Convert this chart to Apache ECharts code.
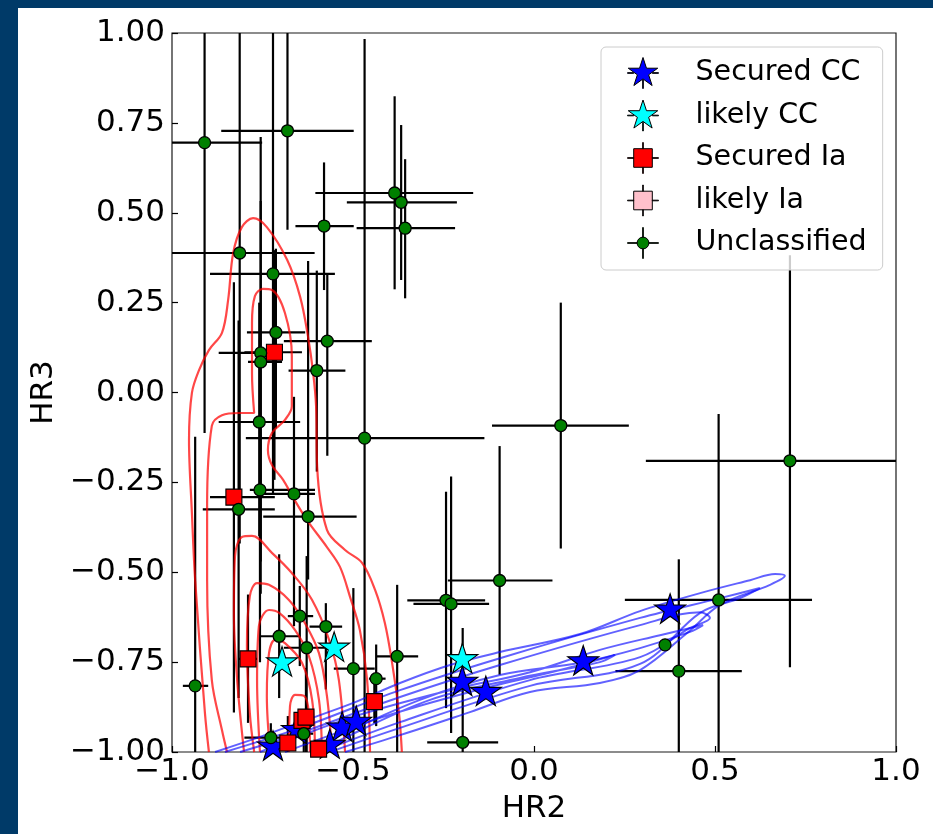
<!DOCTYPE html>
<html>
<head>
<meta charset="utf-8">
<script src="https://cdn.jsdelivr.net/npm/echarts@6/dist/echarts.min.js"></script>
<style>
html,body{margin:0;padding:0;background:#003a68;}
#chart{width:933px;height:834px;}
</style>
</head>
<body>
<div id="chart"></div>
<script>
// ---------- data: [x, y, xLow, xHigh, yLow, yHigh] ----------
const securedCC = [
  [0.376, -0.605, 0.376, 0.376, -0.605, -0.605],
  [0.136, -0.749, 0.136, 0.136, -0.749, -0.749],
  [-0.198, -0.806, -0.198, -0.198, -0.806, -0.806],
  [-0.133, -0.834, -0.133, -0.133, -0.834, -0.834],
  [-0.530, -0.933, -0.530, -0.530, -0.933, -0.933],
  [-0.491, -0.917, -0.491, -0.491, -0.917, -0.917],
  [-0.564, -0.981, -0.564, -0.564, -0.981, -0.981],
  [-0.721, -0.986, -0.721, -0.721, -0.986, -0.986],
  [-0.655, -0.940, -0.655, -0.655, -0.940, -0.940]
];
const likelyCC = [
  [-0.198, -0.743, -0.198, -0.198, -0.743, -0.743],
  [-0.696, -0.752, -0.696, -0.696, -0.752, -0.752],
  [-0.552, -0.711, -0.552, -0.552, -0.711, -0.711]
];
const securedIa = [
  [-0.717, 0.112, -0.800, -0.641, -0.243, 0.396],
  [-0.829, -0.291, -0.895, -0.716, -0.890, 0.307],
  [-0.790, -0.741, -0.816, -0.765, -0.919, -0.562],
  [-0.441, -0.860, -0.460, -0.420, -0.920, -0.800],
  [-0.641, -0.912, -0.641, -0.641, -0.912, -0.912],
  [-0.630, -0.903, -0.650, -0.610, -1.050, -0.766],
  [-0.680, -0.975, -0.680, -0.680, -1.050, -0.900],
  [-0.595, -0.992, -0.595, -0.595, -0.992, -0.992]
];
const likelyIa = [];
const unclassified = [
  [-0.910, 0.695, -1.050, -0.751, -0.113, 1.200],
  [-0.681, 0.728, -0.864, -0.498, 0.453, 1.200],
  [-0.580, 0.463, -0.659, -0.498, 0.285, 0.640],
  [-0.385, 0.555, -0.604, -0.168, 0.287, 0.824],
  [-0.367, 0.529, -0.517, -0.213, 0.313, 0.744],
  [-0.356, 0.457, -0.490, -0.218, 0.262, 0.649],
  [-0.813, 0.388, -1.050, -0.606, -0.420, 1.200],
  [-0.721, 0.330, -0.895, -0.550, -0.280, 1.200],
  [-0.713, 0.167, -0.793, -0.632, -0.100, 0.400],
  [-0.571, 0.143, -0.691, -0.448, -0.176, 0.332],
  [-0.755, 0.110, -0.871, -0.700, -0.470, 0.711],
  [-0.755, 0.085, -0.790, -0.696, -0.560, 0.533],
  [-0.600, 0.061, -0.678, -0.521, -0.220, 0.339],
  [-0.759, -0.082, -0.871, -0.646, -0.400, 0.250],
  [-0.468, -0.127, -0.796, -0.137, -1.050, 0.983],
  [0.074, -0.092, -0.116, 0.262, -0.434, 0.250],
  [0.707, -0.190, 0.309, 1.050, -0.764, 0.382],
  [-0.936, -0.816, -0.970, -0.900, -1.050, -0.123],
  [-0.816, -0.325, -0.915, -0.716, -0.850, 0.200],
  [-0.757, -0.271, -0.785, -0.605, -0.750, 0.150],
  [-0.663, -0.282, -0.745, -0.605, -0.650, -0.012],
  [-0.624, -0.345, -0.748, -0.490, -0.520, 0.366],
  [-0.647, -0.622, -0.680, -0.610, -0.761, -0.538],
  [-0.575, -0.651, -0.620, -0.530, -0.826, -0.586],
  [-0.704, -0.678, -0.759, -0.646, -0.850, -0.450],
  [-0.628, -0.710, -0.691, -0.577, -1.050, -0.455],
  [-0.499, -0.768, -0.553, -0.440, -1.050, -0.544],
  [-0.436, -0.796, -0.456, -0.410, -0.928, -0.701],
  [-0.378, -0.734, -0.436, -0.320, -1.050, -0.535],
  [-0.727, -0.960, -0.800, -0.660, -1.050, -0.920],
  [-0.636, -0.949, -0.660, -0.610, -1.000, -0.900],
  [-0.243, -0.578, -0.350, -0.135, -0.878, -0.276],
  [-0.229, -0.588, -0.333, -0.124, -0.947, -0.234],
  [-0.095, -0.523, -0.238, 0.051, -0.785, -0.149],
  [-0.197, -0.973, -0.295, -0.099, -1.050, -0.655],
  [0.362, -0.702, 0.362, 0.362, -0.702, -0.702],
  [0.400, -0.775, 0.225, 0.574, -1.050, -0.464],
  [0.510, -0.577, 0.251, 0.768, -1.050, -0.060]
];

// ---------- density contours ----------
const iaContour1 = [[-0.898,-1.0],[-0.909,-0.892],[-0.936,-0.522],[-0.945,-0.335],[-0.953,-0.132],[-0.945,-0.001],[-0.925,0.063],[-0.898,0.118],[-0.862,0.166],[-0.845,0.257],[-0.831,0.388],[-0.807,0.460],[-0.776,0.485],[-0.738,0.460],[-0.682,0.369],[-0.646,0.266],[-0.624,0.154],[-0.610,0.054],[-0.602,-0.038],[-0.599,-0.207],[-0.572,-0.382],[-0.522,-0.438],[-0.475,-0.474],[-0.439,-0.549],[-0.412,-0.641],[-0.392,-0.752],[-0.373,-0.891],[-0.365,-1.0]];
const iaContour2 = [[-0.848,-1.0],[-0.862,-0.939],[-0.890,-0.800],[-0.903,-0.522],[-0.903,-0.316],[-0.890,-0.093],[-0.862,-0.063],[-0.815,-0.057],[-0.773,-0.057],[-0.779,0.054],[-0.779,0.193],[-0.771,0.268],[-0.749,0.288],[-0.724,0.285],[-0.688,0.221],[-0.669,0.102],[-0.669,-0.038],[-0.688,-0.076],[-0.724,-0.113],[-0.735,-0.160],[-0.724,-0.202],[-0.693,-0.243],[-0.666,-0.291],[-0.627,-0.355],[-0.572,-0.430],[-0.536,-0.485],[-0.508,-0.569],[-0.481,-0.661],[-0.461,-0.800],[-0.453,-1.0]];
const iaContour3 = [[-0.801,-1.0],[-0.820,-0.800],[-0.829,-0.613],[-0.826,-0.455],[-0.807,-0.402],[-0.779,-0.399],[-0.724,-0.446],[-0.669,-0.502],[-0.613,-0.577],[-0.566,-0.688],[-0.539,-0.800],[-0.522,-1.0]];
const iaContour4 = [[-0.773,-1.0],[-0.785,-0.892],[-0.793,-0.705],[-0.785,-0.566],[-0.765,-0.530],[-0.732,-0.535],[-0.677,-0.577],[-0.633,-0.641],[-0.594,-0.725],[-0.572,-0.844],[-0.558,-1.0]];
const iaContour5 = [[-0.757,-1.0],[-0.765,-0.800],[-0.760,-0.650],[-0.732,-0.605],[-0.704,-0.613],[-0.660,-0.661],[-0.622,-0.733],[-0.594,-0.855],[-0.586,-1.0]];
const iaContour6 = [[-0.729,-1.0],[-0.738,-0.844],[-0.732,-0.725],[-0.715,-0.688],[-0.688,-0.697],[-0.641,-0.752],[-0.613,-0.855],[-0.605,-1.0]];
const iaContour7 = [[-0.677,-1.0],[-0.674,-0.872],[-0.660,-0.841],[-0.635,-0.844],[-0.622,-0.892],[-0.619,-1.0]];

const ccContour1 = [[-0.881,-1.0],[-0.757,-0.958],[-0.646,-0.917],[-0.508,-0.867],[-0.370,-0.808],[-0.232,-0.758],[-0.094,-0.722],[0.127,-0.672],[0.293,-0.608],[0.459,-0.558],[0.597,-0.522],[0.666,-0.505],[0.693,-0.510],[0.652,-0.535],[0.514,-0.591],[0.423,-0.669],[0.293,-0.772],[0.182,-0.808],[-0.011,-0.833],[-0.177,-0.889],[-0.370,-0.953],[-0.522,-1.0]];
const ccContour2 = [[-0.854,-1.0],[-0.646,-0.933],[-0.370,-0.828],[-0.094,-0.739],[0.293,-0.627],[0.514,-0.572],[0.624,-0.544],[0.569,-0.572],[0.459,-0.613],[0.293,-0.755],[-0.011,-0.816],[-0.370,-0.933],[-0.564,-1.0]];
const ccContour3 = [[-0.812,-1.0],[-0.646,-0.947],[-0.370,-0.847],[-0.094,-0.758],[0.293,-0.647],[0.459,-0.611],[0.486,-0.627],[0.431,-0.655],[0.293,-0.736],[-0.011,-0.800],[-0.370,-0.917],[-0.591,-1.0]];
const ccContour4 = [[-0.757,-1.0],[-0.508,-0.905],[-0.232,-0.828],[-0.011,-0.778],[0.182,-0.716],[0.348,-0.675],[0.467,-0.647],[0.431,-0.666],[0.293,-0.711],[0.127,-0.752],[-0.094,-0.786],[-0.315,-0.855],[-0.564,-0.967],[-0.619,-1.0]];
const ccContour5 = [[-0.688,-1.0],[-0.425,-0.905],[-0.177,-0.833],[0.072,-0.772],[0.224,-0.730],[0.182,-0.750],[-0.039,-0.794],[-0.287,-0.855],[-0.536,-0.967],[-0.591,-1.0]];

const xTickLabels = ['\u22121.0', '\u22120.5', '0.0', '0.5', '1.0'];
const yTickLabels = ['\u22121.00', '\u22120.75', '\u22120.50', '\u22120.25', '0.00', '0.25', '0.50', '0.75', '1.00'];
const seriesNames = ['Secured CC', 'likely CC', 'Secured Ia', 'likely Ia', 'Unclassified'];

// ---------- symbols ----------
const STAR = 'path://M50 0 L61.23 34.55 L97.55 34.55 L68.17 55.9 L79.39 90.45 L50 69.1 L20.61 90.45 L31.83 55.9 L2.45 34.55 L38.77 34.55 Z';
const STAR_LEG = 'path://M50 0 L61.23 34.55 L97.55 34.55 L68.17 55.9 L79.39 90.45 L50 69.1 L20.61 90.45 L31.83 55.9 L2.45 34.55 L38.77 34.55 Z M0 49 L20 49 L20 51 L0 51 Z M80 49 L100 49 L100 51 L80 51 Z M49 72 L51 72 L51 100 L49 100 Z';
const SQ_LEG = 'path://M20 20 L80 20 L80 80 L20 80 Z M0 49 L20 49 L20 51 L0 51 Z M80 49 L100 49 L100 51 L80 51 Z M49 0 L51 0 L51 20 L49 20 Z M49 80 L51 80 L51 100 L49 100 Z';
const CI_LEG = 'path://M31 50 A19 19 0 1 1 69 50 A19 19 0 1 1 31 50 Z M0 49 L31 49 L31 51 L0 51 Z M69 49 L100 49 L100 51 L69 51 Z M49 0 L51 0 L51 31 L49 31 Z M49 69 L51 69 L51 100 L49 100 Z';

const FONT = 'DejaVu Sans';

function renderErr(params, api) {
  const x = api.value(0), y = api.value(1);
  const c = api.coord([x, y]);
  const l = api.coord([api.value(2), y]);
  const r = api.coord([api.value(3), y]);
  const b = api.coord([x, api.value(4)]);
  const t = api.coord([x, api.value(5)]);
  const st = {stroke: '#000', lineWidth: 2.2};
  return {type: 'group', children: [
    {type: 'line', shape: {x1: l[0], y1: c[1], x2: r[0], y2: c[1]}, style: st},
    {type: 'line', shape: {x1: c[0], y1: b[1], x2: c[0], y2: t[1]}, style: st}
  ]};
}
function errSeries(name, data) {
  return {type: 'custom', name: name, data: data, renderItem: renderErr, clip: true,
          encode: {x: 0, y: 1}, z: 1, silent: true};
}
function contour(data, color, width) {
  return {type: 'line', data: data, showSymbol: false, symbol: 'none', smooth: 0.35,
          lineStyle: {color: color, width: width}, z: 2, silent: true, clip: true};
}
function scatter(name, data, symbol, size, color, z, offset, bw) {
  return {type: 'scatter', name: name, data: data, encode: {x: 0, y: 1},
          symbol: symbol, symbolSize: size, symbolKeepAspect: true, symbolOffset: offset || [0, 0],
          itemStyle: {color: color, borderColor: '#000', borderWidth: bw || 1.1, opacity: 1},
          z: z, silent: true};
}

const RED = 'rgba(255,0,0,0.72)';
const BLUE = 'rgba(0,0,255,0.62)';

const chart = echarts.init(document.getElementById('chart'), null, {renderer: 'canvas'});
chart.setOption({
  backgroundColor: '#003a68',
  animation: false,
  graphic: {elements: [{type: 'rect', left: 18, top: 8, z: -100,
    shape: {width: 915, height: 826}, style: {fill: '#ffffff'}}]},
  grid: {left: 172, top: 33, width: 724, height: 719, show: true,
         borderColor: '#1a1a1a', borderWidth: 1.2, backgroundColor: 'transparent'},
  xAxis: {type: 'value', min: -1, max: 1, interval: 0.5,
    axisLine: {show: false, onZero: false}, splitLine: {show: false},
    axisTick: {show: true, inside: true, length: 6, lineStyle: {color: '#000', width: 1.2}},
    axisLabel: {fontSize: 31, fontFamily: FONT, color: '#000', margin: 4,
      showMinLabel: true, showMaxLabel: true,
      formatter: v => xTickLabels[Math.round((v + 1) / 0.5)]},
    name: 'HR2', nameLocation: 'middle', nameGap: 41,
    nameTextStyle: {fontSize: 31, fontFamily: FONT, color: '#000'}},
  yAxis: {type: 'value', min: -1, max: 1, interval: 0.25,
    axisLine: {show: false, onZero: false}, splitLine: {show: false},
    axisTick: {show: true, inside: true, length: 6, lineStyle: {color: '#000', width: 1.2}},
    axisLabel: {fontSize: 31, fontFamily: FONT, color: '#000', margin: 7,
      showMinLabel: true, showMaxLabel: true,
      formatter: v => yTickLabels[Math.round((v + 1) / 0.25)]},
    name: 'HR3', nameLocation: 'middle', nameGap: 112,
    nameTextStyle: {fontSize: 31, fontFamily: FONT, color: '#000'}},
  legend: {
    orient: 'vertical', left: 601, top: 47, padding: [10, 16, 11, 26], itemGap: 10.5,
    itemWidth: 31, itemHeight: 31, selectedMode: false,
    backgroundColor: 'rgba(255,255,255,0.8)', borderColor: '#cccccc', borderWidth: 1, borderRadius: 5,
    textStyle: {fontSize: 28.5, fontFamily: FONT, color: '#000', lineHeight: 32, padding: [0, 0, 0, 32]},
    data: [
      {name: seriesNames[0], icon: STAR_LEG, itemStyle: {color: '#0000ff', borderColor: '#000', borderWidth: 1}},
      {name: seriesNames[1], icon: STAR_LEG, itemStyle: {color: '#00ffff', borderColor: '#000', borderWidth: 1}},
      {name: seriesNames[2], icon: SQ_LEG, itemStyle: {color: '#ff0000', borderColor: '#000', borderWidth: 1}},
      {name: seriesNames[3], icon: SQ_LEG, itemStyle: {color: '#ffc0cb', borderColor: '#000', borderWidth: 1}},
      {name: seriesNames[4], icon: CI_LEG, itemStyle: {color: '#008000', borderColor: '#000', borderWidth: 1}}
    ]
  },
  series: [
    errSeries('eb_lcc', likelyCC),
    errSeries('eb_scc', securedCC),
    errSeries('eb_sia', securedIa),
    errSeries('eb_lia', likelyIa),
    errSeries('eb_unc', unclassified),
    contour(iaContour1, RED, 2.2), contour(iaContour2, RED, 2.2), contour(iaContour3, RED, 2.2),
    contour(iaContour4, RED, 2.2), contour(iaContour5, RED, 2.2), contour(iaContour6, RED, 2.2),
    contour(iaContour7, RED, 2.2),
    contour(ccContour1, BLUE, 2), contour(ccContour2, BLUE, 2), contour(ccContour3, BLUE, 2),
    contour(ccContour4, BLUE, 2), contour(ccContour5, BLUE, 2),
    scatter(seriesNames[1], likelyCC, STAR, 31, '#00ffff', 3, [0, -1.5]),
    scatter(seriesNames[0], securedCC, STAR, 31, '#0000ff', 4, [0, -1.5]),
    scatter(seriesNames[2], securedIa, 'rect', 16, '#ff0000', 5),
    scatter(seriesNames[3], likelyIa, 'rect', 16, '#ffc0cb', 5),
    scatter(seriesNames[4], unclassified, 'circle', 12, '#008000', 6, null, 1.3)
  ]
});
</script>
</body>
</html>
